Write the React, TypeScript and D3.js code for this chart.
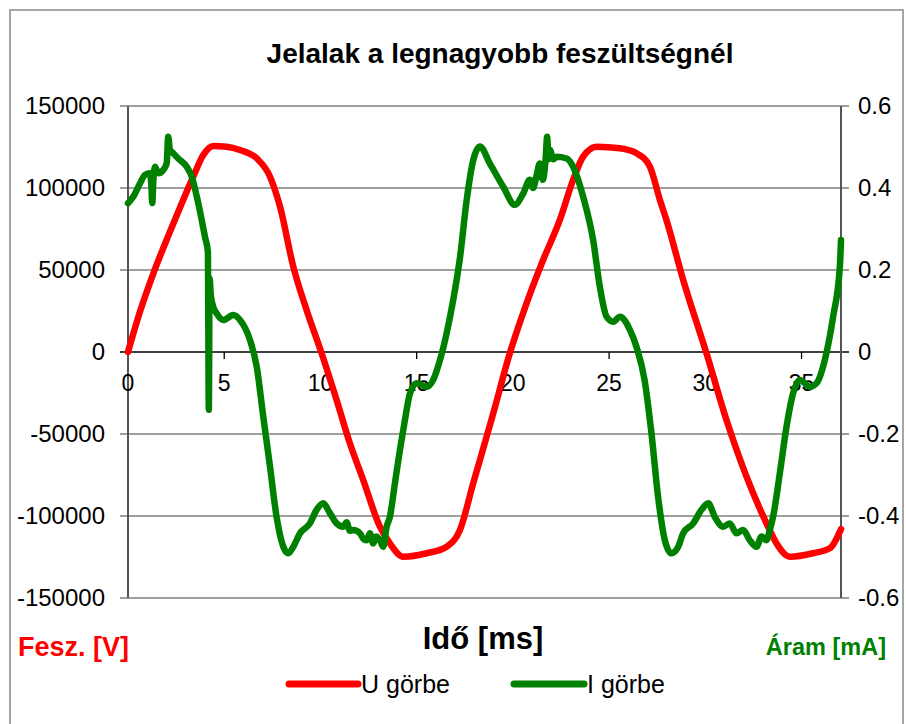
import React from "react";
import * as d3 from "d3";

const width = 906;
const height = 724;
const margin = { top: 106, right: 65, bottom: 126, left: 128 };

// U görbe (voltage, V) — time in ms
const uTime = [
  0, 0.62, 1.32, 2.01, 2.7, 3.39, 3.91, 4.43, 5.13, 5.82, 6.69, 7.38, 7.9,
  8.59, 9.28, 10.06, 10.84, 11.53, 12.22, 13.09, 13.61, 14.3, 15.52, 16.56,
  17.25, 17.94, 18.98, 19.84, 20.71, 21.57, 22.44, 23.13, 23.65, 24.35, 25.56,
  26.42, 27.12, 27.64, 27.98, 28.85, 30.06, 31.1, 32.14, 33.18, 33.7, 34.39,
  35.6, 36.47, 37.05,
];
const uValues = [
  0, 24500, 48000, 68500, 88000, 106900, 120100, 125600, 125200, 123200,
  118100, 106900, 88600, 52000, 25600, -800, -29300, -55700, -78000, -106500,
  -116700, -124800, -122700, -118700, -108500, -80000, -37400, -800, 29700,
  56100, 80500, 104900, 119100, 125200, 124200, 121200, 113000, 92700, 80500,
  43900, -800, -41500, -76000, -104500, -116700, -124800, -122700, -119700,
  -108000,
];

// I görbe (current, mA)
const iTime = [
  0, 0.28, 0.62, 0.88, 1.14, 1.22, 1.26, 1.32, 1.4, 1.58, 1.83, 2.01, 2.09,
  2.18, 2.35, 2.61, 3.05, 3.31, 3.65, 4.0, 4.15, 4.2, 4.24, 4.3, 4.43, 4.61,
  4.95, 5.47, 5.82, 6.34, 6.69, 7.03, 7.38, 7.72, 8.07, 8.33, 8.59, 8.94, 9.45,
  9.8, 10.15, 10.49, 10.84, 11.18, 11.36, 11.53, 11.7, 12.05, 12.22, 12.4,
  12.57, 12.74, 12.9, 13.09, 13.26, 13.44, 13.61, 13.87, 14.13, 14.39, 14.65,
  15.0, 15.52, 15.86, 16.21, 16.56, 16.9, 17.25, 17.6, 17.94, 18.29, 18.8,
  19.5, 20.1, 20.54, 20.88, 21.05, 21.23, 21.4, 21.55, 21.7, 21.78, 21.85,
  21.92, 22.1, 22.27, 22.79, 23.13, 23.65, 24.17, 24.52, 24.87, 25.21, 25.56,
  26.08, 26.42, 26.85, 27.2, 27.55, 27.9, 28.24, 28.59, 28.85, 29.37, 29.8,
  30.15, 30.49, 30.93, 31.27, 31.62, 31.96, 32.31, 32.66, 32.92, 33.18, 33.35,
  33.52, 33.87, 34.22, 34.56, 34.91, 35.43, 35.78, 36.29, 36.64, 36.99, 37.05,
];
const iValues = [
  0.363, 0.379, 0.411, 0.432, 0.436, 0.4, 0.363, 0.42, 0.452, 0.436, 0.444,
  0.46, 0.525, 0.493, 0.485, 0.472, 0.452, 0.428, 0.363, 0.281, 0.245, -0.141,
  0.18, 0.14, 0.11, 0.094, 0.078, 0.09, 0.078, 0.029, -0.036, -0.158, -0.28,
  -0.402, -0.475, -0.491, -0.475, -0.442, -0.418, -0.385, -0.369, -0.393,
  -0.418, -0.426, -0.415, -0.436, -0.434, -0.442, -0.455, -0.459, -0.442,
  -0.467, -0.45, -0.459, -0.475, -0.426, -0.402, -0.32, -0.239, -0.166, -0.101,
  -0.076, -0.085, -0.068, -0.02, 0.046, 0.127, 0.23, 0.371, 0.468, 0.501, 0.46,
  0.403, 0.359, 0.387, 0.42, 0.4, 0.43, 0.46, 0.42, 0.47, 0.525, 0.47, 0.493,
  0.47, 0.476, 0.472, 0.452, 0.379, 0.273, 0.159, 0.086, 0.074, 0.086, 0.054,
  0.013, -0.07, -0.198, -0.355, -0.46, -0.491, -0.475, -0.442, -0.418, -0.385,
  -0.369, -0.402, -0.426, -0.418, -0.442, -0.434, -0.459, -0.475, -0.45,
  -0.459, -0.434, -0.402, -0.296, -0.182, -0.101, -0.068, -0.085, -0.076,
  -0.003, 0.086, 0.208, 0.273,
];

const leftTicks = [150000, 100000, 50000, 0, -50000, -100000, -150000];
const rightTicks = [0.6, 0.4, 0.2, 0, -0.2, -0.4, -0.6];
const xLabels = [0, 5, 10, 15, 20, 25, 30, 35];
const xTickMarks = [5, 15, 25, 35];

const title = "Jelalak a legnagyobb feszültségnél";
const xTitle = "Idő [ms]";
const leftTitle = "Fesz. [V]";
const rightTitle = "Áram [mA]";
const seriesNames = ["U görbe", "I görbe"];

const RED = "#ff0000";
const GREEN = "#008000";
const font = "'Liberation Sans', Arial, sans-serif";

const x = d3
  .scaleLinear()
  .domain([0, 37.05])
  .range([margin.left, width - margin.right]);
const yLeft = d3
  .scaleLinear()
  .domain([-150000, 150000])
  .range([height - margin.bottom, margin.top]);
const yRight = d3
  .scaleLinear()
  .domain([-0.6, 0.6])
  .range([height - margin.bottom, margin.top]);

const uLine = d3
  .line<number>()
  .x((d, i) => x(uTime[i]))
  .y((d) => yLeft(d))
  .curve(d3.curveMonotoneX);
const iLine = d3
  .line<number>()
  .x((d, i) => x(iTime[i]))
  .y((d) => yRight(d))
  .curve(d3.curveMonotoneX);

export default function App() {
  const x0 = margin.left;
  const x1 = width - margin.right;
  const legendY = 684;
  return (
    <svg
      width={width}
      height={height}
      style={{ position: "absolute", left: 0, top: 0, display: "block" }}
      fontFamily={font}
    >
      <rect width={width} height={height} fill="#fff" />
      <rect
        x={10}
        y={10}
        width={893}
        height={730}
        fill="none"
        stroke="#a6a6a6"
        strokeWidth={2}
      />
      <text x={500} y={63} textAnchor="middle" fontSize={28} fontWeight="bold">
        {title}
      </text>

      {/* gridlines */}
      {leftTicks.map((t) => (
        <line
          key={t}
          x1={x0 - 8}
          x2={x1 + 8}
          y1={yLeft(t)}
          y2={yLeft(t)}
          stroke={t === 0 ? "#000" : "#7f7f7f"}
          strokeWidth={t === 0 || Math.abs(t) === 150000 ? 1.6 : 1.3}
        />
      ))}
      <line x1={x0} x2={x0} y1={yLeft(150000)} y2={yLeft(-150000)} stroke="#555" strokeWidth={2} />
      <line x1={x1} x2={x1} y1={yLeft(150000)} y2={yLeft(-150000)} stroke="#555" strokeWidth={2} />
      {xTickMarks.map((t) => (
        <line key={t} x1={x(t)} x2={x(t)} y1={yLeft(0)} y2={yLeft(0) + 7} stroke="#000" strokeWidth={1.3} />
      ))}

      {/* tick labels */}
      {leftTicks.map((t) => (
        <text key={t} x={105} y={yLeft(t)} dy="0.35em" textAnchor="end" fontSize={24}>
          {t}
        </text>
      ))}
      {rightTicks.map((t) => (
        <text key={t} x={858} y={yRight(t)} dy="0.35em" fontSize={24}>
          {t}
        </text>
      ))}
      {xLabels.map((t) => (
        <text key={t} x={x(t)} y={383} dy="0.35em" textAnchor="middle" fontSize={23}>
          {t}
        </text>
      ))}

      {/* series */}
      <path d={uLine(uValues) || ""} fill="none" stroke={RED} strokeWidth={6.5} strokeLinejoin="round" strokeLinecap="round" />
      <path d={iLine(iValues) || ""} fill="none" stroke={GREEN} strokeWidth={6.5} strokeLinejoin="round" strokeLinecap="round" />

      {/* axis titles */}
      <text x={18} y={647} dy="0.35em" fontSize={27} fontWeight="bold" fill={RED}>
        {leftTitle}
      </text>
      <text x={483} y={638} dy="0.35em" textAnchor="middle" fontSize={31} fontWeight="bold">
        {xTitle}
      </text>
      <text x={886} y={647} dy="0.35em" textAnchor="end" fontSize={23.5} fontWeight="bold" fill={GREEN}>
        {rightTitle}
      </text>

      {/* legend */}
      <line x1={289} x2={358} y1={legendY} y2={legendY} stroke={RED} strokeWidth={7} strokeLinecap="round" />
      <text x={361} y={legendY} dy="0.35em" fontSize={25}>
        {seriesNames[0]}
      </text>
      <line x1={514} x2={584} y1={legendY} y2={legendY} stroke={GREEN} strokeWidth={7} strokeLinecap="round" />
      <text x={587} y={legendY} dy="0.35em" fontSize={25}>
        {seriesNames[1]}
      </text>
    </svg>
  );
}
